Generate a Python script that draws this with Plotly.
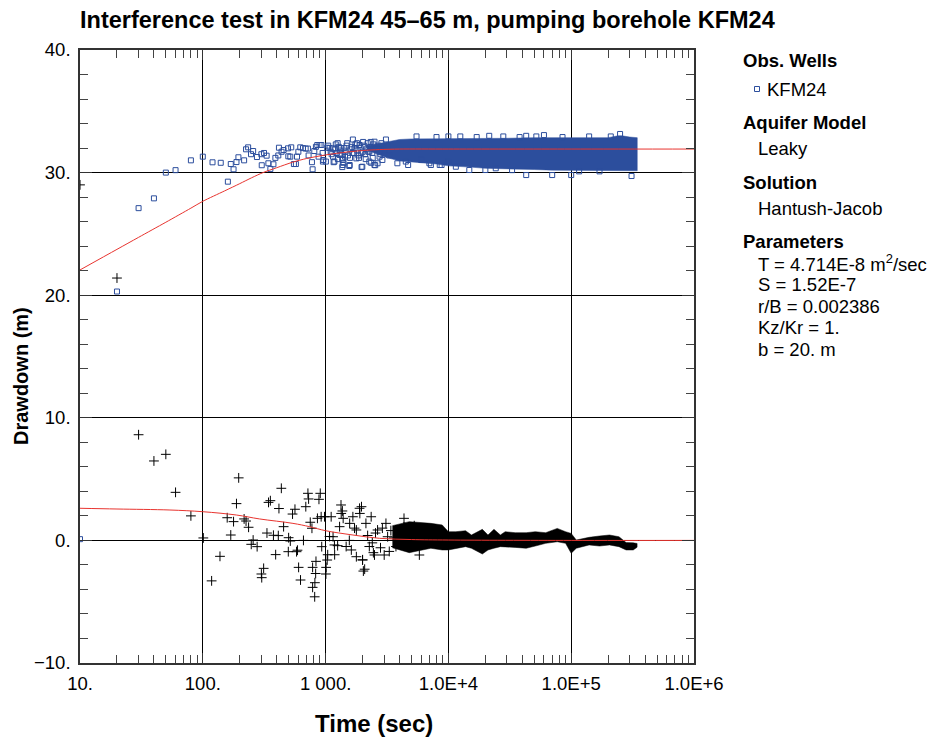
import plotly.graph_objects as go

# ---------------- data ----------------
# Drawdown in KFM24 (blue squares), individually visible points
dd_t = [10, 20, 30, 40, 50, 60, 80, 100, 120, 140, 160, 169, 178, 188, 195, 217, 225, 234, 247, 257,
        276, 300, 302, 315, 331, 342, 355, 376, 390, 412, 417, 438, 455, 494, 497, 516, 525, 552, 573, 585,
        600, 622, 655, 688, 718, 727, 774, 784, 809, 834, 855, 877, 893, 923, 946, 951, 960, 1006, 1031, 1077,
        1100, 1148, 1150, 1162, 1180, 1200, 1230, 1253, 1280, 1300, 1320, 1350, 1368, 1368, 1380, 1380, 1400, 1420, 1450, 1480,
        1520, 1560, 1570, 1600, 1640, 1668, 1700, 1750, 1780, 1820, 1850, 1890, 1930, 1963, 1990, 2000, 2050, 2100, 2150, 2200,
        2270, 2270, 2300, 2350, 2400, 2450, 2500, 2500, 2535, 2600, 2650, 2700, 2800, 2850, 2900, 3000, 3100, 3200, 3300, 3840,
        4500, 4700, 6000, 7000, 7200, 8500, 8800, 10000, 10000, 11500, 14800, 20000, 21500, 24300, 33000, 43000, 43000, 60000, 70000, 100000,
        116000, 170000, 250000, 310000,
        1050, 1120, 1210, 1260, 1330, 1440, 1500, 1580, 1650, 1720, 1800, 1870, 1950, 2020, 2120, 2230, 2330, 2420, 2560, 2750,
        5500, 8000, 12500, 17000, 28000, 38000, 52000, 85000, 140000, 210000]
dd_s = [0.1, 20.3, 27.1, 27.9, 30.0, 30.2, 31.0, 31.3, 30.84, 30.8, 29.26, 30.7, 30.27, 30.86, 31.25, 31.0, 31.9, 32.06, 31.5, 31.76,
        31.27, 31.5, 30.6, 31.6, 31.38, 30.76, 30.3, 30.68, 31.2, 31.4, 32.03, 31.7, 31.84, 31.98, 31.33, 31.3, 32.06, 30.7, 30.7, 31.3,
        31.7, 32.06, 32.0, 31.96, 31.96, 31.4, 30.85, 30.27, 31.76, 32.1, 32.25, 31.3, 32.25, 32.25, 31.6, 30.9, 31.03, 30.9, 32.03, 32.0,
        31.7, 31.3, 31.98, 30.85, 30.9, 31.9, 31.6, 32.4, 32.1, 31.44, 31.8, 31.5, 30.45, 31.15, 30.62, 31.03, 30.8, 32.0, 31.7, 32.2,
        31.4, 30.54, 30.62, 31.9, 32.1, 32.7, 31.6, 32.3, 31.16, 31.8, 31.4, 32.25, 32.0, 30.45, 30.48, 31.7, 32.2, 31.5, 31.9, 32.4,
        31.71, 30.9, 32.1, 30.8, 31.6, 32.3, 32.52, 30.62, 30.6, 31.9, 30.76, 32.2, 31.5, 32.4, 31.03, 31.8, 32.7, 32.1, 31.4, 30.76,
        30.9, 30.62, 31.03, 30.76, 30.62, 30.62, 30.62, 32.95, 30.9, 30.48, 30.21, 30.21, 33.0, 30.35, 30.2, 29.8, 33.0, 33.06, 29.8, 29.8,
        30.1, 30.1, 33.15, 29.72,
        32.2, 31.5, 32.3, 31.1, 32.0, 31.3, 32.4, 31.2, 31.6, 32.0, 32.4, 31.2, 31.6, 32.5, 31.1, 31.7, 32.5, 31.2, 32.0, 31.3,
        32.95, 32.9, 32.95, 32.9, 32.95, 32.9, 32.95, 32.9, 32.95, 32.95]

# Dense part of the drawdown record: outer edges of the solid band
dd_band_t = [2200, 3000, 3500, 4000, 5000, 6000, 8000, 10000, 15000, 20000, 30000, 50000, 70000, 100000,
             150000, 200000, 240000, 260000, 300000, 345000]
dd_band_hi = [32.2, 32.45, 32.6, 32.7, 32.75, 32.75, 32.8, 32.8, 32.8, 32.8, 32.8, 32.85, 32.85, 32.85,
              32.85, 32.85, 33.0, 33.0, 32.9, 32.85]
dd_band_lo = [31.8, 31.3, 31.1, 30.95, 30.9, 30.8, 30.7, 30.55, 30.45, 30.35, 30.3, 30.25, 30.2, 30.2,
              30.2, 30.15, 30.15, 30.15, 30.15, 30.15]

# Derivative (black crosses), individually visible points
dv_t = [10, 20, 30, 40, 50, 60, 80, 101, 118, 138, 158, 169, 178, 188, 196, 217, 225, 236, 248, 257,
        277, 300, 302, 313, 333, 343, 355, 376, 392, 412, 417, 436, 455, 497, 500, 516, 538, 563, 580, 590,
        603, 625, 660, 690, 718, 727, 750, 774, 784, 784, 815, 818, 830, 835, 858, 883, 905, 920, 930, 980,
        1006, 1010, 1030, 1040, 1077, 1110, 1150, 1180, 1185, 1253, 1300, 1335, 1340, 1370, 1390, 1470, 1560, 1570, 1620, 1668,
        1720, 1780, 1780, 1890, 1900, 1960, 2000, 2000, 2030, 2080, 2130, 2270, 2350, 2450, 2500, 2650, 3000, 3100, 3200, 3740,
        4350, 4350, 5270, 5800,
        2200, 2400, 2550, 2800, 2900, 3300, 3400, 3600, 4000, 4100]
dv_s = [29.0, 21.4, 8.62, 6.48, 7.02, 3.92, 2.0, 0.2, -3.3, -1.3, 1.85, 0.44, 1.53, 3.0, 5.1, 1.75, 1.58, 1.07, -0.32, 0.03,
        -0.51, -2.74, -3.04, -2.28, 0.6, 3.1, 3.24, 0.42, -1.16, 0.39, 2.6, 4.25, 1.12, -0.92, 0.22, -0.05, 2.15, 2.54, -0.92, -0.8,
        -2.2, -3.23, 0.0, 2.75, 3.84, 3.38, 1.48, 0.99, -2.2, -3.83, -4.6, -3.45, -2.7, -1.71, 1.8, 3.35, 3.84, 1.93, -0.51, 1.93,
        -2.74, -2.2, -1.6, -1.17, 0.32, 1.93, 0.3, -0.37, -1.17, -0.43, 1.12, 2.89, 2.2, 2.4, 1.8, -0.5, 0.0, 1.39, -0.78, 1.93,
        1.0, 0.85, -1.33, 2.62, 2.2, 2.75, -1.58, -1.6, -2.5, -2.35, 1.39, -0.5, 1.93, -1.0, -1.19, 0.85, -1.19, 1.39, 0.3, -0.5,
        1.8, 1.1, 1.2, -1.19,
        0.4, -0.2, 0.6, -0.6, 1.0, -0.9, 0.8, 0.2, -0.3, 0.6]

# Dense part of the derivative record: outer edges of the solid band
dv_band_t = [3500, 4800, 7200, 8900, 10000, 11500, 13800, 15400, 18900, 21000, 23500, 26500, 29000, 35000,
             43000, 51000, 62000, 77000, 90000, 100000, 110000, 140000, 170000, 205000, 245000, 280000, 320000, 344000]
dv_band_hi = [1.2, 1.53, 1.39, 1.26, 0.71, 0.71, 0.79, 0.44, 0.90, 0.44, 0.90, 0.44, 0.71, 0.63,
              0.63, 0.71, 0.63, 0.98, 0.71, 0.57, 0.03, 0.25, 0.36, 0.44, 0.30, -0.18, -0.2, -0.25]
dv_band_lo = [-0.6, -1.0, -0.64, -0.78, -0.78, -0.64, -0.51, -0.64, -1.11, -0.78, -0.64, -0.51, -0.57, -0.57,
              -0.64, -0.46, -0.24, -0.11, -0.24, -1.05, -0.64, -0.37, -0.46, -0.37, -0.51, -0.78, -0.78, -0.56]

# Hantush-Jacob model curves (red)
fit_t = [10, 20, 30, 50, 80, 100, 150, 200, 250, 309, 400, 540, 700, 1000, 1500, 2000, 2750, 4000, 10000, 100000, 1000000]
fit_s = [22.06, 23.74, 24.72, 25.95, 27.1, 27.66, 28.5, 29.1, 29.58, 30.0, 30.4, 30.85, 31.15, 31.44, 31.68, 31.8,
         31.88, 31.92, 31.92, 31.92, 31.92]
fitd_t = [10, 20, 54, 100, 188, 290, 542, 740, 1000, 1670, 2750, 5000, 10000, 100000, 1000000]
fitd_s = [2.62, 2.56, 2.48, 2.34, 2.07, 1.75, 1.39, 1.12, 0.79, 0.44, 0.17, 0.07, 0.03, 0.0, 0.0]

x_tickvals = [10, 100, 1000, 1e4, 1e5, 1e6]
x_ticktext = ["10.", "100.", "1 000.", "1.0E+4", "1.0E+5", "1.0E+6"]
y_tickvals = [-10, 0, 10, 20, 30, 40]
y_ticktext = ["\u221210.", "0.", "10.", "20.", "30.", "40."]

legend_lines = [
    ("Obs. Wells", True), ("KFM24", False), ("Aquifer Model", True), ("Leaky", False),
    ("Solution", True), ("Hantush-Jacob", False), ("Parameters", True),
    ("T = 4.714E-8 m<sup>2</sup>/sec", False), ("S = 1.52E-7", False), ("r/B = 0.002386", False),
    ("Kz/Kr = 1.", False), ("b = 20. m", False),
]

# ---------------- figure ----------------
BLUE = "#2C4E9D"
RED = "#E8342F"
FONT = "Liberation Sans, Arial, sans-serif"

fig = go.Figure()

fig.add_trace(go.Scatter(
    x=dd_band_t + dd_band_t[::-1], y=dd_band_hi + dd_band_lo[::-1],
    fill="toself", fillcolor=BLUE, line=dict(width=0.5, color=BLUE), mode="lines",
    hoverinfo="skip", showlegend=False))
fig.add_trace(go.Scatter(
    x=dd_t, y=dd_s, mode="markers",
    marker=dict(symbol="square-open", size=5, color=BLUE, line=dict(width=1, color=BLUE)),
    showlegend=False))
fig.add_trace(go.Scatter(
    x=dv_band_t + dv_band_t[::-1], y=dv_band_hi + dv_band_lo[::-1],
    fill="toself", fillcolor="black", line=dict(width=0.5, color="black"), mode="lines",
    hoverinfo="skip", showlegend=False))
fig.add_trace(go.Scatter(
    x=dv_t, y=dv_s, mode="markers",
    marker=dict(symbol="cross-thin-open", size=7, color="black", line=dict(width=1, color="black")),
    showlegend=False))
fig.add_trace(go.Scatter(x=fit_t, y=fit_s, mode="lines", line=dict(color=RED, width=1, shape="spline", smoothing=0.8),
                         showlegend=False))
fig.add_trace(go.Scatter(x=fitd_t, y=fitd_s, mode="lines", line=dict(color=RED, width=1, shape="spline"),
                         showlegend=False))

minor_x = [m * 10 ** e for e in range(1, 6) for m in range(2, 10)]
minor_y = [v for v in range(-10, 41, 2) if v % 10 != 0]

L, R, T, B = 80, 236, 50, 77
W, H = 930, 740
pw, ph = W - L - R, H - T - B

def px(x):
    return (x - L) / pw

def py(y):
    return (H - B - y) / ph

fig.update_layout(
    width=W, height=H, autosize=False,
    margin=dict(l=L, r=R, t=T, b=B),
    paper_bgcolor="white", plot_bgcolor="white",
    font=dict(family=FONT, color="black", size=18),
    title=dict(text="<b>Interference test in KFM24 45\u201365 m, pumping borehole KFM24</b>",
               x=L / W, xanchor="left", y=1 - 20 / H, yanchor="middle", yref="container",
               font=dict(size=23.5, family=FONT)),
    xaxis=dict(type="log", range=[1, 6], tickvals=x_tickvals, ticktext=x_ticktext,
               ticks="inside", ticklen=10, tickcolor="#333", showgrid=True, gridcolor="black", gridwidth=1,
               showline=True, linecolor="#333", linewidth=1.5, mirror="allticks", zeroline=False,
               tickfont=dict(size=18.5), ticklabelstandoff=3,
               minor=dict(tickvals=minor_x, ticks="inside", ticklen=8, tickcolor="#444", showgrid=False)),
    yaxis=dict(range=[-10, 40], tickvals=y_tickvals, ticktext=y_ticktext,
               ticks="inside", ticklen=12, tickcolor="#333", showgrid=True, gridcolor="black", gridwidth=1,
               showline=True, linecolor="#333", linewidth=1.5, mirror="allticks", zeroline=False,
               tickfont=dict(size=18.5), ticklabelstandoff=4,
               minor=dict(tickvals=minor_y, ticks="inside", ticklen=8, tickcolor="#444", showgrid=False)),
    showlegend=False,
)

ann = []
ann.append(dict(text="<b>Time (sec)</b>", x=px(374), y=py(723), xref="paper", yref="paper",
                xanchor="center", yanchor="middle", showarrow=False, font=dict(size=24)))
ann.append(dict(text="<b>Drawdown (m)</b>", x=px(21), y=py(376), xref="paper", yref="paper",
                xanchor="center", yanchor="middle", showarrow=False, textangle=-90, font=dict(size=20)))

leg_y = [61, 89, 122, 148, 182, 208, 242, 263, 284, 306, 327, 349]
for (txt, bold), yy in zip(legend_lines, leg_y):
    if bold:
        ann.append(dict(text="<b>" + txt + "</b>", x=px(741), y=py(yy), xref="paper", yref="paper",
                        xanchor="left", yanchor="middle", showarrow=False, font=dict(size=18.5)))
    else:
        xx = 765 if txt == "KFM24" else 756
        ann.append(dict(text=txt, x=px(xx), y=py(yy), xref="paper", yref="paper",
                        xanchor="left", yanchor="middle", showarrow=False, font=dict(size=18.5)))
fig.update_layout(annotations=ann)

fig.add_shape(type="rect", xref="paper", yref="paper",
              x0=px(754.5), x1=px(759.5), y0=py(91.5), y1=py(86.5),
              line=dict(color=BLUE, width=1), fillcolor="white")

fig.write_html("out.html")
